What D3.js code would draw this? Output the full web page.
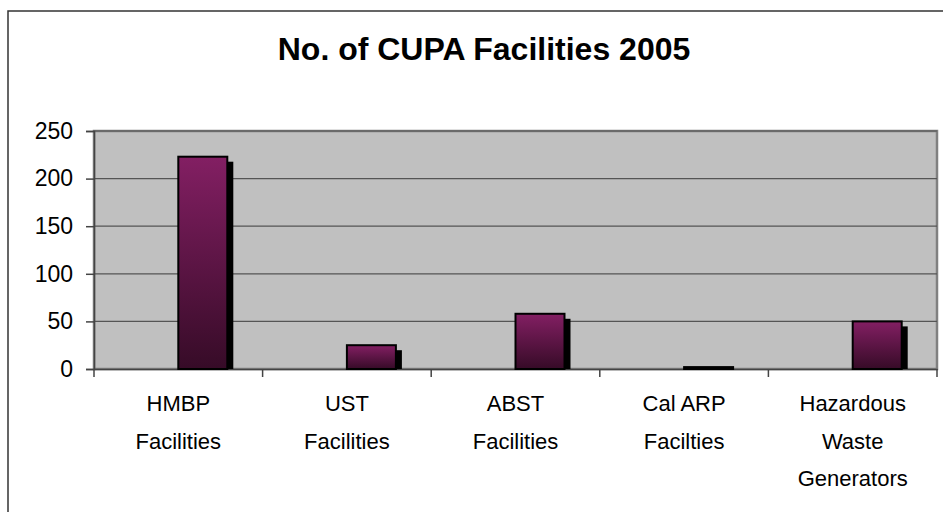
<!DOCTYPE html>
<html><head><meta charset="utf-8">
<script src="https://cdn.jsdelivr.net/npm/d3@7"></script>
<style>body{margin:0;background:#fff}svg{display:block}</style>
</head><body>
<svg id="c" width="943" height="512"></svg>
<script>
const categories = [["HMBP","Facilities"],["UST","Facilities"],["ABST","Facilities"],["Cal ARP","Facilties"],["Hazardous","Waste","Generators"]];
const values = [223, 25, 58, 2, 50];
const yTicks = [0, 50, 100, 150, 200, 250];
const title = "No. of CUPA Facilities 2005";

const svg = d3.select("#c");
const m = {l:94, r:937, t:131, b:369};
const font = "Liberation Sans, Arial, sans-serif";

// outer chart border
svg.append("rect").attr("x",8).attr("y",11).attr("width",1000).attr("height",600)
  .attr("fill","#fff").attr("stroke","#333").attr("stroke-width",1.5);

const keys = categories.map(d=>d.join(" "));
const x = d3.scaleBand().domain(keys).range([m.l,m.r]).padding(0);
const y = d3.scaleLinear().domain([0,250]).range([m.b,m.t]);

const defs = svg.append("defs");
const g = defs.append("linearGradient").attr("id","bg").attr("x1",0).attr("y1",0).attr("x2",0).attr("y2",1);
g.append("stop").attr("offset","0%").attr("stop-color","#831f63");
g.append("stop").attr("offset","100%").attr("stop-color","#360b27");

// plot area
svg.append("rect").attr("x",m.l).attr("y",m.t).attr("width",m.r-m.l).attr("height",m.b-m.t)
  .attr("fill","#c0c0c0").attr("stroke","#808080").attr("stroke-width",2.5);

// gridlines
svg.append("g").selectAll("line").data(yTicks.filter(t=>t>0)).join("line")
  .attr("x1",m.l).attr("x2",m.r).attr("y1",d=>y(d)).attr("y2",d=>y(d))
  .attr("stroke","#555").attr("stroke-width",1.2);

// y axis
const ya = d3.axisLeft(y).tickValues(yTicks).tickSize(8).tickPadding(13);
const yg = svg.append("g").attr("transform",`translate(${m.l},0)`).call(ya);
yg.select(".domain").attr("stroke","#444").attr("stroke-width",1.5);
yg.selectAll(".tick line").attr("stroke","#444").attr("stroke-width",1.5);
yg.selectAll("text").attr("font-family",font).attr("font-size",23).attr("fill","#000");

// x axis
const xa = d3.axisBottom(x).tickSize(0).tickFormat("");
const xg = svg.append("g").attr("transform",`translate(0,${m.b})`).call(xa);
xg.select(".domain").attr("stroke","#444").attr("stroke-width",1.5);
const bounds = keys.map(k=>x(k)).concat([m.r]);
svg.append("g").selectAll("line").data(bounds).join("line")
  .attr("x1",d=>d).attr("x2",d=>d).attr("y1",m.b).attr("y2",m.b+8)
  .attr("stroke","#444").attr("stroke-width",1.5);

// category labels
const lab = svg.append("g").selectAll("text").data(categories).join("text")
  .attr("font-family",font).attr("font-size",22).attr("text-anchor","middle")
  .attr("x",(d,i)=>x(keys[i])+x.bandwidth()/2).attr("y",411);
lab.selectAll("tspan").data((d,i)=>d.map(s=>({s,cx:x(keys[i])+x.bandwidth()/2}))).join("tspan")
  .attr("x",d=>d.cx).attr("dy",(d,j)=>j===0?0:37.5).text(d=>d.s);

// bars
const bw = 49, so = 6, sd = 5;
const bars = svg.append("g");
bars.selectAll("rect.sh").data(values).join("rect").attr("class","sh")
  .attr("x",(d,i)=>x(keys[i])+x.bandwidth()/2+bw)
  .attr("y",d=>Math.min(y(d)+sd, y(0)))
  .attr("width",so)
  .attr("height",d=>Math.max(y(0)-y(d)-sd,0))
  .attr("fill","#000");
bars.selectAll("rect.b").data(values).join("rect").attr("class","b")
  .attr("x",(d,i)=>x(keys[i])+x.bandwidth()/2)
  .attr("y",d=>y(d))
  .attr("width",bw)
  .attr("height",d=>y(0)-y(d))
  .attr("fill","url(#bg)").attr("stroke","#000").attr("stroke-width",2);

// title
svg.append("text").attr("x",484).attr("y",60).attr("text-anchor","middle")
  .attr("font-family",font).attr("font-weight","bold").attr("font-size",32)
  .text(title);
</script>
</body></html>
